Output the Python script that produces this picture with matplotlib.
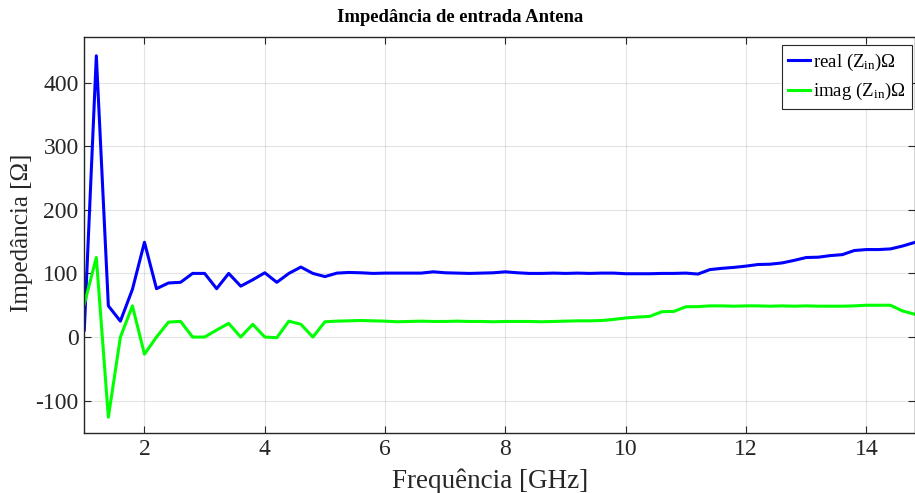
import numpy as np
import matplotlib
matplotlib.use("Agg")
import matplotlib.pyplot as plt

# Frequency sweep (GHz), 0.2 GHz step
freq_start, freq_stop, freq_step = 1.0, 14.8, 0.2
freq = np.round(np.arange(freq_start, freq_stop + freq_step / 2, freq_step), 2)

# Real part of the input impedance (ohm)
z_real = [
    11, 442, 49, 25, 75, 149, 76, 85, 86, 100,
    100, 76, 100, 80, 90, 101, 86, 100, 110, 100,
    95, 100.5, 101.5, 101, 100, 100.5, 100.5, 100.5, 100.5, 102.5,
    101, 100.5, 100, 100.5, 101, 102.5, 101, 100, 100, 100.5,
    100, 100.5, 100, 100.5, 100.5, 99.5, 99.5, 99.5, 100, 100,
    100.5, 99, 106, 108, 109.5, 111.5, 114, 114.5, 116.5, 120.5,
    125, 125.5, 128, 129.5, 136, 137.5, 137.5, 138.5, 143, 148.6,
]

# Imaginary part of the input impedance (ohm)
z_imag = [
    52, 125, -126, 0, 49, -27, 0, 23.5, 24.6, 0,
    0, 11, 21.5, 0, 20, 0, -1, 25, 20, 0,
    24, 25, 25.5, 26, 25.5, 25, 24, 24.5, 25, 24.5,
    24.5, 25, 24.5, 24.5, 24, 24.5, 24.5, 24.5, 24, 24.5,
    25, 25.5, 25.5, 26, 27.7, 30, 31.4, 32.5, 39.8, 40.3,
    47.6, 47.8, 49, 49, 48.5, 49, 49, 48.5, 49, 48.5,
    49, 48.5, 48.5, 48.5, 49, 50, 50, 50, 41, 36,
]

x_ticks = [2, 4, 6, 8, 10, 12, 14]
y_ticks = [-100, 0, 100, 200, 300, 400]

plt.rcParams["font.family"] = ["Liberation Serif", "DejaVu Serif"]
plt.rcParams["mathtext.fontset"] = "custom"
plt.rcParams["mathtext.rm"] = "Liberation Serif"
plt.rcParams["mathtext.it"] = "Liberation Serif:italic"
plt.rcParams["axes.unicode_minus"] = False

W, H = 915, 493
fig = plt.figure(figsize=(W / 100, H / 100), dpi=100)
ax = fig.add_axes([84.3 / W, 1 - 432.5 / H, (914.5 - 84.3) / W, (432.5 - 36.7) / H])

ax.plot(freq, z_real, color=(0, 0, 1), lw=2.2, label=r"real (Z$_{\rm in}$)Ω")
ax.plot(freq, z_imag, color=(0, 1, 0), lw=2.2, label=r"imag (Z$_{\rm in}$)Ω")

ax.set_xlim(freq_start, freq_stop)
ax.set_ylim(-150, 472)
ax.set_xticks(x_ticks)
ax.set_yticks(y_ticks)

dark = (0.15, 0.15, 0.15)
for sp in ax.spines.values():
    sp.set_color(dark)
    sp.set_linewidth(1.0)
ax.tick_params(direction="in", length=5, width=0.8, colors=dark, labelsize=17,
               top=True, right=True, labelcolor=dark)
ax.tick_params(axis="x", pad=5)
ax.tick_params(axis="y", pad=4)
ax.grid(True, color=(0.15, 0.15, 0.15), alpha=0.12, lw=0.8)

fig.text(460 / W, 1 - 18 / H, "Impedância de entrada Antena", fontsize=13.4,
         fontweight="bold", ha="center", va="center", color="black")
fig.text(490 / W, 1 - 481 / H, "Frequência [GHz]", fontsize=19.5, color=dark,
         ha="center", va="center")
fig.text(22 / W, 1 - 233 / H, "Impedância [Ω]", fontsize=18, color=dark,
         ha="center", va="center", rotation=90)

leg = ax.legend(loc="upper right", bbox_to_anchor=(912 / W, 1 - 45 / H),
                bbox_transform=fig.transFigure,
                fontsize=13.6, frameon=True, fancybox=False,
                framealpha=1, edgecolor=dark, handlelength=1.15, handletextpad=0.15,
                borderpad=0.35, labelspacing=0.45, borderaxespad=0)
leg.get_frame().set_linewidth(0.8)

fig.savefig("out.png", dpi=100)
